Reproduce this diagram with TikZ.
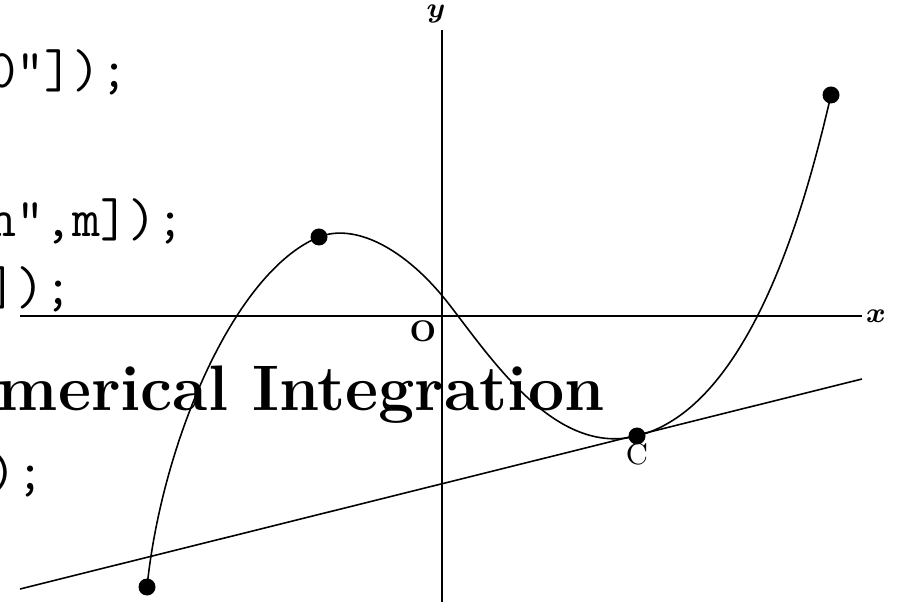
\documentclass[tikz,border=0pt]{standalone}
\usepackage{tikz}
\usetikzlibrary{positioning,calc}

\begin{document}
\begin{tikzpicture}[
    x=1cm, y=1cm,
    every node/.style={inner sep=0pt},
    codeline/.style={anchor=base west, font=\fontsize{15.5}{17}\selectfont\ttfamily},
    headline/.style={anchor=base west, font=\fontsize{18.3}{20}\selectfont\bfseries},
    axislabel/.style={font=\fontsize{8.5}{10}\selectfont\boldmath},
    ptlabel/.style={font=\fontsize{8.5}{10}\selectfont},
    dotpt/.style={circle, fill=black, minimum size=0.17cm},
    thinline/.style={line width=0.45pt}
]
\useasboundingbox (0,0) rectangle (8.99,6.01);
\clip (0,0) rectangle (8.99,6.01);

% Code lines behind the plot
\node[codeline] (l1) at (-0.125,5.13) {0"]);};
\node[codeline] (l2) at (-0.125,3.64) {n",m]);};
\node[codeline] (l3) at (-0.125,2.96) {]);};
\node[headline] (sec) at (-0.03,1.90) {merical Integration};
\node[codeline] (l5) at (-0.125,1.12) {);};

% Axes
\coordinate (xl) at (0.20,2.85);
\coordinate (xr) at (8.62,2.85);
\coordinate (yb) at (4.42,-0.1);
\coordinate (yt) at (4.42,5.71);
\draw[thinline] (xl) -- (xr);
\draw[thinline] (yb) -- (yt);
\node[axislabel] (xlab) at (8.76,2.85) {$x$};
\node[axislabel] (ylab) at (4.36,5.87) {$y$};
\node[ptlabel] (olab) at (4.23,2.70) {\textbf{O}};

% Curve through the points
\coordinate (A) at (1.47,0.14);
\coordinate (P) at (3.19,3.64);
\coordinate (M) at (4.50,2.955);
\coordinate (C) at (6.37,1.65);
\coordinate (B) at (8.31,5.06);
\draw[thinline] (A) .. controls (1.62,1.60) and (2.35,3.30) .. (P)
    .. controls (3.54,3.78) and (4.05,3.54) .. (M)
    .. controls (4.95,2.37) and (5.57,1.45) .. (C)
    .. controls (7.57,1.95) and (8.11,4.21) .. (B);

% Tangent at C
\coordinate (tl) at (0.20,0.12);
\coordinate (tr) at (8.62,2.22);
\draw[thinline] (tl) -- (tr);

% Dots
\node[dotpt] (dA) at (A) {};
\node[dotpt] (dP) at (P) {};
\node[dotpt] (dC) at (C) {};
\node[dotpt] (dB) at (B) {};
\node[ptlabel] (clab) at (6.37,1.47) {C};

\end{tikzpicture}
\end{document}
